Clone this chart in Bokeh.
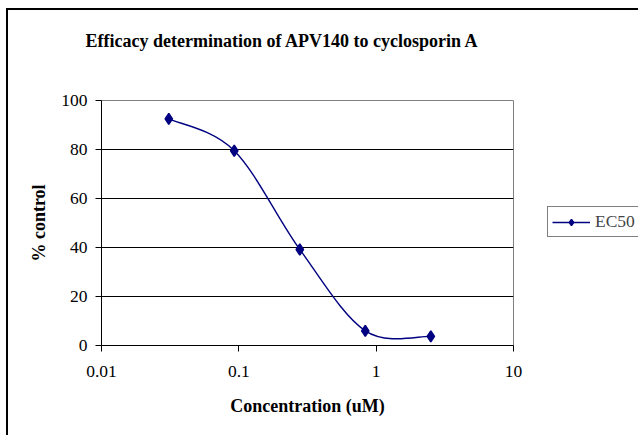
import numpy as np
from bokeh.plotting import figure
from bokeh.models import (ColumnDataSource, FixedTicker, CustomJSTickFormatter,
                          Legend, LegendItem, Range1d, Title)
from bokeh.embed import file_html
from bokeh.resources import INLINE

# ---- data ----
concentration = [0.0309, 0.0926, 0.278, 0.833, 2.5]   # uM
pct_control = [92.5, 79.5, 39.2, 6.0, 3.7]           # % control
x_ticks = [0.01, 0.1, 1, 10]
y_ticks = [0, 20, 40, 60, 80, 100]
series_name = "EC50"
title_text = "Efficacy determination of APV140 to cyclosporin A"
x_label = "Concentration (uM)"
y_label = "% control"

NAVY = "#000080"
FONT = "Liberation Serif"

# ---- smoothed line (Catmull-Rom style Bezier, like a spreadsheet "smoothed line") ----
lx = np.log10(np.array(concentration, dtype=float))
ly = np.array(pct_control, dtype=float)
n = len(lx)
dx = np.zeros(n)
dy = np.zeros(n)
for i in range(n):
    a = max(i - 1, 0)
    b = min(i + 1, n - 1)
    dx[i] = (lx[b] - lx[a]) / 6.0
    dy[i] = (ly[b] - ly[a]) / 6.0
bez = ColumnDataSource(dict(
    x0=10 ** lx[:-1], y0=ly[:-1],
    x1=10 ** lx[1:], y1=ly[1:],
    cx0=10 ** (lx[:-1] + dx[:-1]), cy0=ly[:-1] + dy[:-1],
    cx1=10 ** (lx[1:] - dx[1:]), cy1=ly[1:] - dy[1:],
))
pts = ColumnDataSource(dict(x=concentration, y=pct_control))

p = figure(
    x_axis_type="log",
    x_range=Range1d(0.01, 10), y_range=Range1d(0, 100),
    frame_width=412, frame_height=245,
    min_border_left=101, min_border_right=125,
    min_border_top=100, min_border_bottom=90,
    output_backend="svg", toolbar_location=None,
    title=title_text,
)
# outer chart-area border (left and top edges visible in the reference)
p.styles = {"box-shadow": "inset 6px 8px 0 0 #fff, inset 8px 10px 0 0 #000"}
p.border_fill_color = None
p.background_fill_color = "white"
p.outline_line_color = "#808080"
p.outline_line_width = 1

# title
p.title.text_font = FONT
p.title.text_font_size = "18px"
p.title.text_font_style = "bold"
p.title.text_color = "black"
p.title.align = "left"
p.title.offset = -16
p.title.standoff = 0
# blank spacer between the title and the plot area
p.add_layout(Title(text=" ", text_font_size="10px", standoff=37), "above")

# grid
p.xgrid.visible = False
p.ygrid.grid_line_color = "black"
p.ygrid.grid_line_width = 1
p.ygrid.ticker = FixedTicker(ticks=y_ticks)

# axes
for ax in (p.xaxis[0], p.yaxis[0]):
    ax.axis_line_color = "black"
    ax.axis_line_width = 1
    ax.major_tick_line_color = "black"
    ax.major_tick_out = 6
    ax.major_tick_in = 0
    ax.minor_tick_out = 0
    ax.minor_tick_in = 0
    ax.major_label_text_font = FONT
    ax.major_label_text_font_size = "17.5px"
    ax.major_label_text_color = "black"
    ax.axis_label_text_font = FONT
    ax.axis_label_text_font_size = "18px"
    ax.axis_label_text_font_style = "bold"
    ax.axis_label_text_color = "black"

p.xaxis.ticker = FixedTicker(ticks=x_ticks)
p.xaxis.formatter = CustomJSTickFormatter(code="return tick.toString();")
p.xaxis.axis_label = x_label
p.xaxis.major_label_standoff = 14
p.xaxis.axis_label_standoff = 16

p.yaxis.ticker = FixedTicker(ticks=y_ticks)
p.yaxis.axis_label = y_label
p.yaxis.major_label_standoff = 8
p.yaxis.axis_label_standoff = 9

# series
r_line = p.bezier(x0="x0", y0="y0", x1="x1", y1="y1",
                  cx0="cx0", cy0="cy0", cx1="cx1", cy1="cy1",
                  source=bez, line_color=NAVY, line_width=1.4)
r_pts = p.scatter("x", "y", source=pts, marker="diamond", size=11,
                  line_width=1.5, fill_color=NAVY, line_color=NAVY)

legend = Legend(items=[LegendItem(label=series_name, renderers=[r_line, r_pts])],
                location=(34, 108))
legend.border_line_color = "black"
legend.border_line_width = 1
legend.background_fill_color = "white"
legend.background_fill_alpha = 1
legend.label_text_font = FONT
legend.label_text_font_size = "17.5px"
legend.glyph_width = 38
legend.glyph_height = 16
legend.label_height = 16
legend.label_standoff = 5
legend.padding = 4
legend.margin = 0
p.add_layout(legend, "right")

open("out.html", "w").write(file_html(p, INLINE))
